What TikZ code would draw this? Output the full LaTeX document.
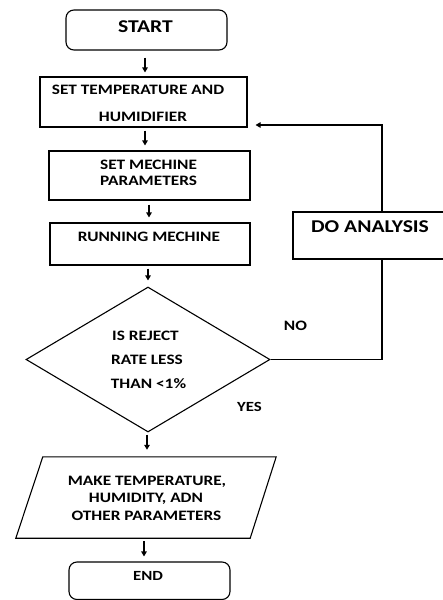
\documentclass[tikz,border=0pt]{standalone}
\usepackage{fontspec}
\newfontfamily\cf[FakeStretch=1.2]{Carlito}
\usetikzlibrary{arrows.meta,shapes.geometric,calc}
\begin{document}
\begin{tikzpicture}[x=1pt,y=-1pt,
  shapebox/.style={draw, line width=1.1pt, inner sep=0pt},
  term/.style={shapebox, rounded corners=8pt},
  txt/.style={inner sep=0pt, anchor=base, font=\cf\bfseries\fontsize{14.4}{14.4}\selectfont},
  bigtxt/.style={inner sep=0pt, anchor=base, font=\cf\bfseries\fontsize{18}{18}\selectfont},
  arr/.style={line width=1.1pt, -{Triangle[width=5.5pt,length=5pt]}},
  loopline/.style={line width=1.2pt}
]
\useasboundingbox (0,0) rectangle (443,600);

% shapes
\node[term, minimum width=161pt, minimum height=40pt] (start) at (146.5,30) {};
\node[shapebox, minimum width=207pt, minimum height=50pt] (b2) at (143.5,102) {};
\node[shapebox, minimum width=201pt, minimum height=49pt] (b3) at (149.5,175.5) {};
\node[shapebox, minimum width=200pt, minimum height=42pt] (b4) at (150,244) {};
\node[shapebox, diamond, minimum width=244pt, minimum height=145pt] (dia) at (148,359.5) {};
\node[inner sep=0pt, minimum width=260pt, minimum height=81pt] (para) at (146,497.5) {};
\draw[line width=1.1pt] (para.south west) -- ($(para.north west)+(27,0)$) -- (para.north east) -- ($(para.south east)+(-26,0)$) -- cycle;
\node[term, minimum width=161pt, minimum height=37.5pt] (end) at (149.5,580.75) {};
\node[shapebox, minimum width=152pt, minimum height=47pt] (do) at (369,235.5) {};

% texts
\node[bigtxt] (tstart) at (145.5,32.8) {START};
\node[txt] (t2a) at (138,94.6) {SET TEMPERATURE AND};
\node[txt] (t2b) at (143,121.6) {HUMIDIFIER};
\node[txt] (t3a) at (148.5,169.6) {SET MECHINE};
\node[txt] (t3b) at (148.5,185.6) {PARAMETERS};
\node[txt] (t4) at (149,241.6) {RUNNING MECHINE};
\node[txt] (td1) at (145.5,340.6) {IS REJECT};
\node[txt] (td2) at (147,364.6) {RATE LESS};
\node[txt] (td3) at (148.5,388.6) {THAN <1\%};
\node[txt] (tp1) at (147,485.6) {MAKE TEMPERATURE,};
\node[txt] (tp2) at (146,502.6) {HUMIDITY, ADN};
\node[txt] (tp3) at (146.5,520.6) {OTHER PARAMETERS};
\node[txt, font=\cf\bfseries\fontsize{14}{14}\selectfont] (tend) at (148,580.5) {END};
\node[bigtxt] (tdo) at (370,232.8) {DO ANALYSIS};
\node[txt] (tno) at (295.5,330.6) {NO};
\node[txt, font=\cf\bfseries\fontsize{14}{14}\selectfont] (tyes) at (249.5,411.5) {YES};

% arrows
\draw[arr] ($(start.south)+(-1.5,7)$) -- ($(b2.north)+(1.5,-4)$);
\draw[arr] ($(b2.south)+(1.5,3)$) -- ($(b3.north)+(-4.5,-5)$);
\draw[arr] ($(b3.south)+(-0.5,4)$) -- ($(b4.north)+(-1,-5)$);
\draw[arr] ($(b4.south)+(-2,3)$) -- ($(dia.north)+(0,-6)$);
\draw[arr] ($(dia.south)+(-1,2)$) -- ($(para.north)+(1,-7)$);
\draw[arr] ($(para.south)+(-2,3)$) -- ($(end.north)+(-5.5,-5)$);

% loop
\draw[loopline] (dia.east) -| ($(do.south)+(13,0)$);
\draw[loopline, arr] ($(do.north)+(13,0)$) |- ($(b2.east)+(8,23)$);
\end{tikzpicture}
\end{document}
